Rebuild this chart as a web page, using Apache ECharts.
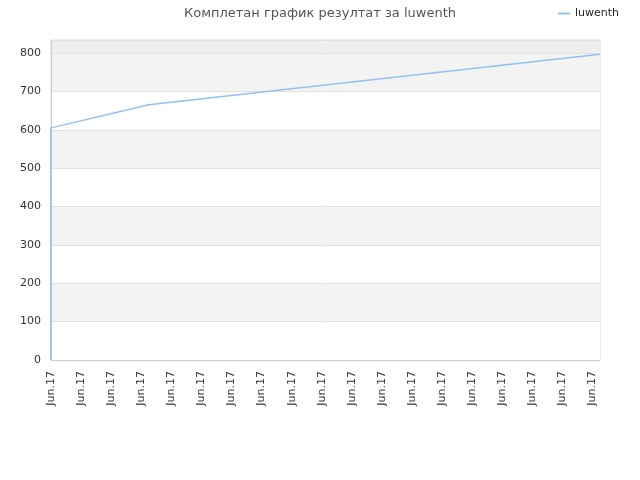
<!DOCTYPE html>
<html>
<head>
<meta charset="utf-8">
<script src="https://cdn.jsdelivr.net/npm/echarts@6/dist/echarts.min.js"></script>
<style>html,body{margin:0;padding:0;background:#fff}#c{width:640px;height:480px}</style>
</head>
<body>
<div id="c"></div>
<script>
var title = 'Комплетан график резултат за luwenth';
var seriesName = 'luwenth';
var tickLabel = 'Jun.17';
// x positions (sample index) and scores
var xIndex = [0, 0, 13, 73];
var scores = [0, 605, 665, 797];
var yTicks = [0, 100, 200, 300, 400, 500, 600, 700, 800];

var chart = echarts.init(document.getElementById('c'));
var bandColors = ['#ffffff','#f3f3f3','#ffffff','#f3f3f3','#ffffff','#f3f3f3','#ffffff','#f3f3f3','#eeeeee'];
chart.setOption({
  animation: false,
  title: {
    text: title, left: 'center', top: 2,
    textStyle: { fontFamily: 'DejaVu Sans', fontSize: 13, fontWeight: 'normal', color: '#555' }
  },
  legend: {
    data: [seriesName], right: 16, top: 3, itemWidth: 12, itemHeight: 2,
    icon: 'rect', itemGap: 6,
    textStyle: { fontFamily: 'DejaVu Sans', fontSize: 11, color: '#222' }
  },
  grid: { left: 51, right: 40, top: 40, bottom: 120, show: true, borderColor: '#dddddd', borderWidth: 1, backgroundColor: 'transparent' },
  xAxis: {
    type: 'value', min: 0, max: 73, interval: 4,
    axisLine: { show: true, lineStyle: { color: '#cccccc' } },
    axisTick: { show: false },
    splitLine: { show: false },
    axisLabel: {
      rotate: 90, showMaxLabel: false, margin: 11,
      fontFamily: 'DejaVu Sans', fontSize: 11, color: '#333',
      formatter: function () { return tickLabel; }
    }
  },
  yAxis: {
    type: 'value', min: 0, max: 834, interval: 100,
    axisLine: { show: true, lineStyle: { color: '#cccccc' } },
    axisTick: { show: false },
    splitLine: { show: true, lineStyle: { color: '#e2e2e2' } },
    splitArea: { show: true, areaStyle: { color: bandColors } },
    axisLabel: {
      showMaxLabel: false, margin: 10,
      fontFamily: 'DejaVu Sans', fontSize: 11, color: '#333',
      formatter: function (v) { return yTicks.indexOf(v) >= 0 ? String(v) : ''; }
    }
  },
  series: [{
    name: seriesName, type: 'line', showSymbol: false, symbol: 'none',
    lineStyle: { color: '#92c0f2', width: 1.5 }, itemStyle: { color: '#92c0f2' },
    data: xIndex.map(function (x, i) { return [x, scores[i]]; })
  }]
});
</script>
</body>
</html>
